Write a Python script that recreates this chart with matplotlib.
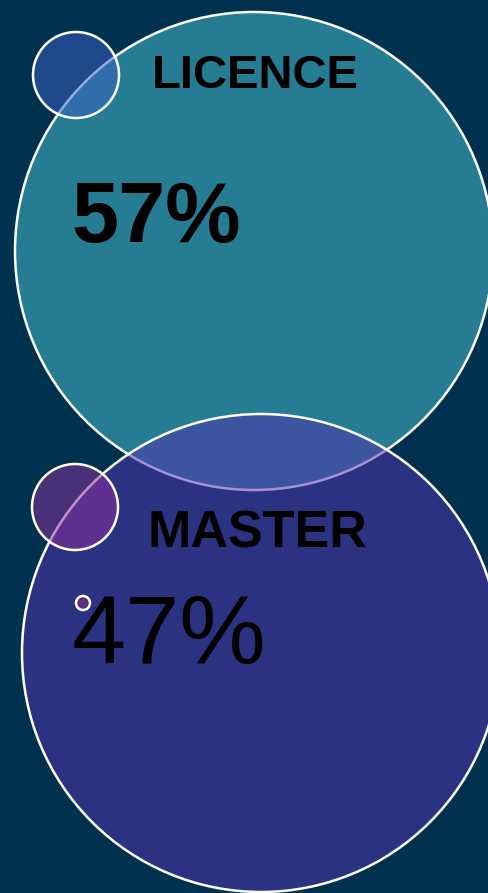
import matplotlib.pyplot as plt
from matplotlib.patches import Circle

plt.rcParams['font.family'] = ['Liberation Sans', 'DejaVu Sans']

# data
labels = ["LICENCE", "MASTER"]
values = [57, 47]
value_weights = ["bold", "normal"]

bg = "#003250"

fig = plt.figure(figsize=(4.89, 8.93), dpi=100)
fig.patch.set_facecolor(bg)
ax = fig.add_axes([0, 0, 1, 1])
ax.set_facecolor(bg)
ax.set_xlim(0, 489)
ax.set_ylim(893, 0)
ax.set_aspect("equal")
ax.axis("off")

# big circles (pixel layout)
big_centres = [(254, 251), (261, 653)]
big_colors = ["#267C93", "#5332AE"]
big_alpha = [1.0, 0.53]
small_centres = [(76, 75), (75, 507)]
small_colors = ["#3960C2", "#8C309C"]

for (cx, cy), col, a in zip(big_centres, big_colors, big_alpha):
    ax.add_patch(Circle((cx, cy), 239, facecolor=col, alpha=a, edgecolor="none", zorder=2))
    ax.add_patch(Circle((cx, cy), 239, facecolor="none", edgecolor="white", lw=1.8, zorder=2))

for (cx, cy), col in zip(small_centres, small_colors):
    ax.add_patch(Circle((cx, cy), 43, facecolor=col, alpha=0.53, edgecolor="none", zorder=3))
    ax.add_patch(Circle((cx, cy), 43, facecolor="none", edgecolor="white", lw=1.8, zorder=3))

# tiny marker next to the second value
ax.add_patch(Circle((83, 603), 7, facecolor="#5C2F80", edgecolor="white", lw=1.8, zorder=4))

label_pos = [(255, 88), (257, 548)]
label_size = [34, 37.5]
value_pos = [(71, 242), (72, 663)]
value_size = [61, 70]

for lab, val, w, lp, ls, vp, vs in zip(labels, values, value_weights,
                                       label_pos, label_size, value_pos, value_size):
    ax.text(lp[0], lp[1], lab, ha="center", va="baseline", fontsize=ls,
            fontweight="bold", color="black", zorder=5)
    ax.text(vp[0], vp[1], f"{val}%", ha="left", va="baseline", fontsize=vs,
            fontweight=w, color="black", zorder=5)

fig.savefig("out.png", dpi=100, facecolor=bg)
